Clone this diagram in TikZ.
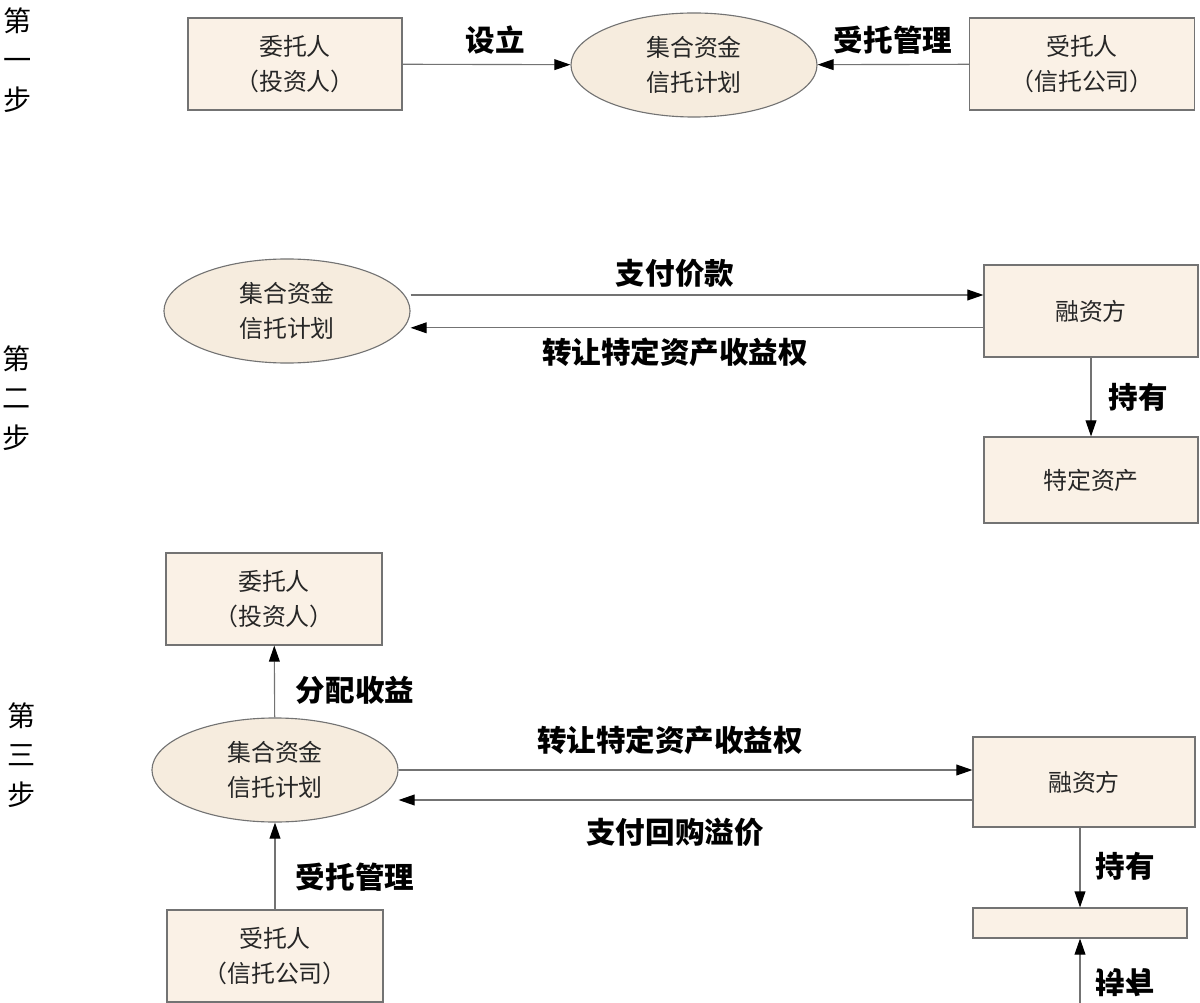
\documentclass[tikz,border=0pt]{standalone}
\usepackage{fontspec}
\newfontfamily\cjk{Noto Sans CJK SC}
\usetikzlibrary{shapes.geometric,arrows.meta,calc}
\definecolor{boxfill}{RGB}{250,241,230}
\definecolor{planfill}{RGB}{246,236,222}
\definecolor{edgegray}{RGB}{115,115,115}
\tikzset{
	box/.style={draw=edgegray, line width=0.8pt, fill=boxfill, align=center, inner sep=0pt,
		minimum width=5.35cm, minimum height=2.3cm, text=black!85,
		font=\cjk\fontsize{17}{25}\selectfont},
	plan/.style={ellipse, draw=edgegray, line width=0.8pt, fill=planfill, align=center, inner sep=0pt,
		minimum width=6.15cm, minimum height=2.6cm, text=black!85,
		font=\cjk\fontsize{17}{25}\selectfont},
	flow/.style={draw=edgegray, line width=0.8pt, -{Triangle[length=0.4cm, width=0.27cm, color=black]}},
	lbl/.style={font=\cjk\bfseries\fontsize{21}{25}\selectfont, inner sep=0pt},
	steplbl/.style={font=\cjk\fontsize{20}{28}\selectfont, align=center, inner sep=0pt}
}
\begin{document}
\begin{tikzpicture}[x=0.025cm, y=-0.025cm]
		%%%%% START %%%%%
		\useasboundingbox (0,0) rectangle (1200,1003);
		\clip (0,0) rectangle (1200,1003);
		
		% step labels
		\node[steplbl] (s1) at (18,60) {第\\一\\步};
		\node[steplbl] (s2) at (17,398) {第\\二\\步};
		\node[steplbl] (s3) at (22,755) {第\\三\\步};
		
		% step 1
		\node[box] (inv1) at (295,64) {委托人\\（投资人）};
		\node[plan] (plan1) at (694,65) {集合资金\\信托计划};
		\node[box, minimum width=5.63cm] (trus1) at (1082,64) {受托人\\（信托公司）};
		\draw[flow] (inv1) -- (plan1);
		\draw[flow] (trus1) -- (plan1);
		\node[lbl] (set1) at (495,40) {设立};
		\node[lbl] (man1) at (893,40) {受托管理};
		
		% step 2
		\node[plan] (plan2) at (287,311) {集合资金\\信托计划};
		\node[box] (fin2) at (1091,311) {融资方};
		\node[box, minimum height=2.15cm] (asset2) at (1091,480) {特定资产};
		\draw[flow] ([yshift=0.4cm]plan2.east) -- ([yshift=0.4cm]fin2.west);
		\draw[flow] ([yshift=-0.42cm]fin2.west) -- ([yshift=-0.42cm]plan2.east);
		\draw[flow] (fin2) -- (asset2);
		\node[lbl] (pay2) at (675,273) {支付价款};
		\node[lbl] (tran2) at (675,352) {转让特定资产收益权};
		\node[lbl] (hold2) at (1138,397) {持有};
		
		% step 3
		\node[box, minimum width=5.4cm] (inv3) at (274,599) {委托人\\（投资人）};
		\node[plan] (plan3) at (275,770) {集合资金\\信托计划};
		\node[box, minimum width=5.4cm] (trus3) at (275,956) {受托人\\（信托公司）};
		\node[box, minimum width=5.55cm, minimum height=2.25cm] (fin3) at (1084,782) {融资方};
		\node[box, minimum height=0.75cm] (bar3) at (1080,923) {};
		\coordinate (low3) at (1080,1010);
		\draw[flow] (plan3) -- (inv3);
		\draw[flow] (trus3) -- (plan3);
		\draw[flow] (plan3.east) -- (plan3.east -| fin3.west);
		\draw[flow] ($(plan3.east -| fin3.west)+(0,30)$) -- ($(plan3.east)+(0,30)$);
		\draw[flow] (fin3.south -| bar3) -- (bar3);
		\draw[flow] (low3) -- (bar3);
		\node[lbl] (dist3) at (355,690) {分配收益};
		\node[lbl] (man3) at (355,877) {受托管理};
		\node[lbl] (tran3) at (670,740) {转让特定资产收益权};
		\node[lbl] (buy3) at (675,832) {支付回购溢价};
		\node[lbl] (hold3) at (1125,866) {持有};
		\node[lbl, yscale=-1] (hold3b) at (1125,983) {持有};
		
		%%%%% END %%%%%
\end{tikzpicture}
\end{document}
